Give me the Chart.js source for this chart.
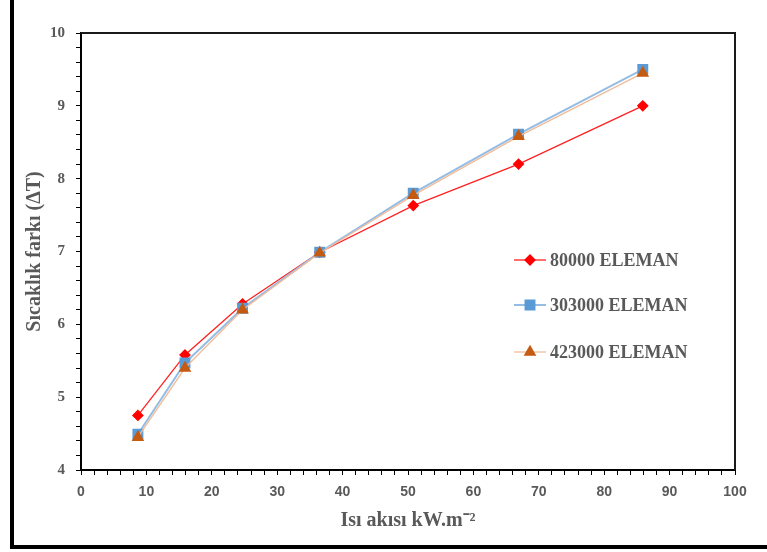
<!DOCTYPE html>
<html>
<head>
<meta charset="utf-8">
<script src="https://cdn.jsdelivr.net/npm/chart.js@4.4.1/dist/chart.umd.min.js"></script>
<style>
  body { margin: 0; background: #fff; }
  #wrap { position: relative; width: 767px; height: 552px; }
</style>
</head>
<body>
<div id="wrap"><canvas id="chart"></canvas></div>
<script>
// ısı akısı (kW/m2)
const heatFlux = [8.7, 15.9, 24.7, 36.5, 50.8, 66.9, 85.9];

// sıcaklık farkı (ΔT) her ağ için
const dT80000 = [4.75, 5.58, 6.28, 6.99, 7.63, 8.2, 9.0];
const dT303000 = [4.49, 5.47, 6.22, 6.99, 7.8, 8.61, 9.5];
const dT423000 = [4.45, 5.4, 6.2, 6.98, 7.77, 8.58, 9.45];

const seriesLabels = ["80000 ELEMAN", "303000 ELEMAN", "423000 ELEMAN"];

const xTitle = "Isı akısı kW.m⁻²";
const yTitle = "Sıcaklık farkı (ΔT)";

const grayText = "#595959";

const toPoints = (ys) => ys.map((y, i) => ({ x: heatFlux[i], y: y }));

// çerçeve: sol ve alt kalın çizgi
const framePlugin = {
  id: "outerFrame",
  afterDraw: (chart) => {
    const { ctx } = chart;
    ctx.save();
    ctx.fillStyle = "#000";
    ctx.fillRect(10, 0, 4, 549);
    ctx.fillRect(10, 545, 757, 4);
    ctx.restore();
  },
};

// grafik alanının üst ve sağ kenarı
const boxPlugin = {
  id: "plotBox",
  beforeDatasetsDraw: (chart) => {
    const { ctx, chartArea } = chart;
    ctx.save();
    ctx.strokeStyle = "#1a1a1a";
    ctx.lineWidth = 2;
    ctx.beginPath();
    ctx.moveTo(chartArea.left, chartArea.top);
    ctx.lineTo(chartArea.right, chartArea.top);
    ctx.lineTo(chartArea.right, chartArea.bottom);
    ctx.stroke();
    ctx.restore();
  },
};

// lejant grafik içinde sağda
const legendPlugin = {
  id: "insideLegend",
  afterDraw: (chart) => {
    const { ctx } = chart;
    const rows = [260, 305, 352];
    chart.data.datasets.forEach((ds, i) => {
      const y = rows[i];
      ctx.save();
      ctx.strokeStyle = ds.borderColor;
      ctx.lineWidth = ds.borderWidth;
      ctx.beginPath();
      ctx.moveTo(514, y);
      ctx.lineTo(546, y);
      ctx.stroke();
      ctx.fillStyle = ds.pointBackgroundColor;
      ctx.strokeStyle = ds.pointBorderColor;
      Chart.helpers.drawPoint(
        ctx,
        { pointStyle: ds.pointStyle, radius: ds.pointRadius, rotation: 0, borderWidth: 1 },
        530,
        y,
      );
      ctx.fillStyle = grayText;
      ctx.font = "bold 18px 'Liberation Serif'";
      ctx.textAlign = "left";
      ctx.textBaseline = "middle";
      ctx.fillText(ds.label, 550, y + 1);
      ctx.restore();
    });
  },
};

const isWhole = (v) => Math.abs(v - Math.round(v)) < 1e-6;

new Chart(document.getElementById("chart"), {
  type: "line",
  data: {
    datasets: [
      {
        label: seriesLabels[0],
        data: toPoints(dT80000),
        borderColor: "#ff2020",
        borderWidth: 1.3,
        pointStyle: "rectRot",
        pointRadius: 5,
        pointBackgroundColor: "#ff0000",
        pointBorderColor: "#ff0000",
        order: 3,
      },
      {
        label: seriesLabels[1],
        data: toPoints(dT303000),
        borderColor: "#94bde6",
        borderWidth: 2,
        pointStyle: "rect",
        pointRadius: 6.3,
        pointBackgroundColor: "#5b9bd5",
        pointBorderColor: "#5b9bd5",
        order: 2,
      },
      {
        label: seriesLabels[2],
        data: toPoints(dT423000),
        borderColor: "#f2bb98",
        borderWidth: 1.3,
        pointStyle: "triangle",
        pointRadius: 6,
        pointBackgroundColor: "#c55a11",
        pointBorderColor: "#c55a11",
        order: 1,
      },
    ],
  },
  options: {
    responsive: true,
    maintainAspectRatio: false,
    animation: false,
    layout: { padding: { top: 33, right: 32, left: 0, bottom: 0 } },
    scales: {
      x: {
        type: "linear",
        min: 0,
        max: 100,
        afterFit: (scale) => {
          scale.height = 82;
        },
        ticks: {
          stepSize: 2,
          autoSkip: false,
          maxRotation: 0,
          minRotation: 0,
          padding: 9,
          color: grayText,
          font: { family: "'Liberation Sans'", size: 14, weight: "bold" },
          callback: (v) => (v % 10 === 0 ? v : ""),
        },
        grid: {
          display: true,
          drawOnChartArea: false,
          drawTicks: true,
          tickLength: 5,
          tickColor: "#000",
        },
        border: { display: true, color: "#000", width: 2 },
        title: {
          display: true,
          text: xTitle,
          color: grayText,
          font: { family: "'Liberation Serif'", size: 20, weight: "bold" },
          padding: { top: 0, bottom: 19 },
        },
      },
      y: {
        type: "linear",
        min: 4,
        max: 10,
        afterFit: (scale) => {
          scale.width = 81;
        },
        ticks: {
          stepSize: 0.2,
          autoSkip: false,
          padding: 11,
          color: grayText,
          font: { family: "'Liberation Serif'", size: 15, weight: "bold" },
          callback: (v) => (isWhole(v) ? Math.round(v) : ""),
        },
        grid: {
          display: true,
          drawOnChartArea: false,
          drawTicks: true,
          tickLength: 5,
          tickColor: "#000",
        },
        border: { display: true, color: "#000", width: 2 },
        title: {
          display: true,
          text: yTitle,
          color: grayText,
          font: { family: "'Liberation Serif'", size: 20, weight: "bold" },
          padding: { top: 23, bottom: 0 },
        },
      },
    },
    plugins: {
      legend: { display: false },
      tooltip: { enabled: false },
    },
  },
  plugins: [boxPlugin, legendPlugin, framePlugin],
});
</script>
</body>
</html>
